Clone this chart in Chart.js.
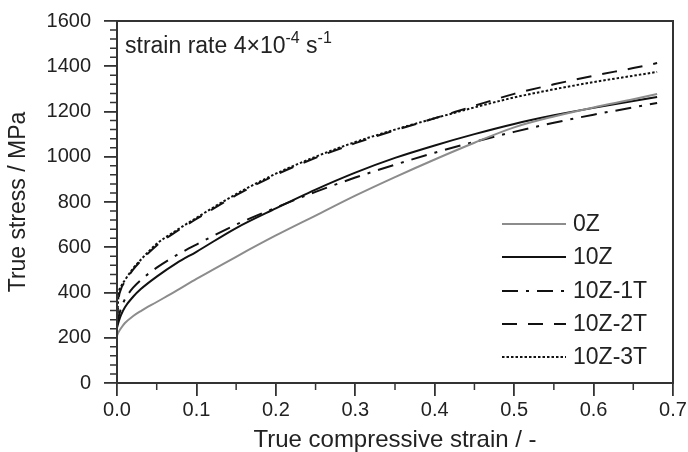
<!DOCTYPE html>
<html>
<head>
<meta charset="utf-8">
<script src="https://cdn.jsdelivr.net/npm/chart.js@4.4.1/dist/chart.umd.min.js"></script>
<style>
  html, body { margin: 0; padding: 0; background: #fff; overflow: hidden; }
</style>
</head>
<body>
<canvas id="chart" width="688" height="452"></canvas>
<script>
// ---------- Data ----------
const strain = [0, 0.002, 0.005, 0.01, 0.02, 0.03, 0.05, 0.075, 0.1, 0.15, 0.2, 0.25, 0.3, 0.35, 0.4, 0.45, 0.5, 0.55, 0.6, 0.65, 0.68];

const stress0Z  = [210, 225, 242, 265, 295, 318, 358, 408, 460, 558, 652, 740, 828, 910, 988, 1062, 1130, 1178, 1218, 1254, 1277];
const stress10Z = [245, 270, 300, 335, 380, 415, 470, 530, 580, 685, 772, 855, 930, 995, 1050, 1100, 1145, 1183, 1216, 1246, 1264];
const stress1T  = [255, 290, 330, 370, 420, 455, 510, 565, 612, 700, 775, 845, 908, 965, 1018, 1066, 1110, 1150, 1186, 1218, 1238];
const stress2T  = [265, 370, 415, 448, 500, 540, 608, 670, 725, 830, 920, 995, 1060, 1117, 1170, 1225, 1278, 1320, 1358, 1392, 1414];
const stress3T  = [270, 390, 425, 455, 505, 545, 615, 675, 730, 835, 925, 1000, 1065, 1120, 1170, 1218, 1262, 1298, 1330, 1358, 1375];

const seriesLabels = ["0Z", "10Z", "10Z-1T", "10Z-2T", "10Z-3T"];
const xTicks = [0, 0.1, 0.2, 0.3, 0.4, 0.5, 0.6, 0.7];
const yTicks = [0, 200, 400, 600, 800, 1000, 1200, 1400, 1600];

// ---------- Style ----------
const INK = "#222222";
const AXIS = "#333333";
const FONT = "'Liberation Sans', Arial, sans-serif";

const pts = (ys) => strain.map((x, i) => ({ x, y: ys[i] }));

const styles = [
  { color: "#8c8c8c", dash: [] },
  { color: "#111111", dash: [] },
  { color: "#111111", dash: [16, 8, 3, 8] },
  { color: "#111111", dash: [15, 11] },
  { color: "#111111", dash: [2.5, 2] },
];
const values = [stress0Z, stress10Z, stress1T, stress2T, stress3T];

const datasets = values.map((v, i) => ({
  label: seriesLabels[i],
  data: pts(v),
  borderColor: styles[i].color,
  borderDash: styles[i].dash,
  borderWidth: 2,
  pointRadius: 0,
  fill: false,
  cubicInterpolationMode: "monotone",
}));

// ---------- Extras: frame, minor ticks, legend, note ----------
const extras = {
  id: "extras",
  afterDraw(chart) {
    const { ctx, chartArea: a, scales } = chart;
    ctx.save();
    // frame
    ctx.strokeStyle = AXIS;
    ctx.lineWidth = 2;
    ctx.strokeRect(a.left, a.top, a.right - a.left, a.bottom - a.top);

    // minor ticks
    ctx.lineWidth = 1.5;
    ctx.beginPath();
    for (let v = 40; v < 1600; v += 40) {
      if (v % 200 === 0) continue;
      const y = scales.y.getPixelForValue(v);
      ctx.moveTo(a.left - 7, y);
      ctx.lineTo(a.left, y);
    }
    for (let k = 0; k < 7; k++) {
      const x = scales.x.getPixelForValue(k * 0.1 + 0.05);
      ctx.moveTo(x, a.bottom);
      ctx.lineTo(x, a.bottom + 7);
    }
    ctx.stroke();

    // legend
    const rowY = [224, 257, 291, 324, 357];
    ctx.font = "23px " + FONT;
    ctx.textBaseline = "middle";
    ctx.textAlign = "left";
    chart.data.datasets.forEach((ds, i) => {
      const y = rowY[i];
      ctx.strokeStyle = ds.borderColor;
      ctx.lineWidth = 2;
      ctx.setLineDash(ds.borderDash);
      ctx.beginPath();
      ctx.moveTo(502, y);
      ctx.lineTo(566, y);
      ctx.stroke();
      ctx.setLineDash([]);
      ctx.fillStyle = INK;
      ctx.fillText(ds.label, 573, y + 1);
    });

    // strain-rate note with superscripts
    ctx.textBaseline = "alphabetic";
    let x = a.left + 8;
    const base = 53;
    const part = (txt, size, dy) => {
      ctx.font = size + "px " + FONT;
      ctx.fillText(txt, x, base - dy);
      x += ctx.measureText(txt).width;
    };
    part("strain rate 4\u00d710", 23, 0);
    part("-4", 16, 10);
    part(" s", 23, 0);
    part("-1", 16, 10);
    ctx.restore();
  },
};

// keep the scales from reserving room for overhanging labels
const noPad = (s) => { s.paddingTop = 0; s.paddingBottom = 0; s.paddingLeft = 0; s.paddingRight = 0; };

new Chart(document.getElementById("chart"), {
  type: "line",
  data: { datasets },
  plugins: [extras],
  options: {
    responsive: false,
    animation: false,
    layout: { autoPadding: false, padding: { top: 21, right: 15, left: 0, bottom: 0 } },
    plugins: { legend: { display: false }, tooltip: { enabled: false } },
    scales: {
      x: {
        type: "linear",
        min: 0,
        max: 0.7,
        afterBuildTicks: (s) => { s.ticks = xTicks.map((value) => ({ value })); },
        afterFit: (s) => { s.height = 69; noPad(s); },
        ticks: { callback: (v) => Number(v).toFixed(1), color: INK, padding: 2, font: { family: FONT, size: 20 }, maxRotation: 0 },
        grid: { drawOnChartArea: false, tickLength: 13, color: AXIS, lineWidth: 1.8 },
        border: { color: AXIS, width: 2 },
        title: { display: true, text: "True compressive strain / -", color: INK, font: { family: FONT, size: 24, lineHeight: 1.0 }, padding: { top: 0, bottom: 0 } },
      },
      y: {
        min: 0,
        max: 1600,
        afterBuildTicks: (s) => { s.ticks = yTicks.map((value) => ({ value })); },
        afterFit: (s) => { s.width = 117; noPad(s); },
        ticks: { callback: (v) => String(v), color: INK, padding: 13, font: { family: FONT, size: 20 } },
        grid: { drawOnChartArea: false, tickLength: 13, color: AXIS, lineWidth: 1.8 },
        border: { color: AXIS, width: 2 },
        title: { display: true, text: "True stress / MPa", color: INK, font: { family: FONT, size: 23, lineHeight: 1.2 }, padding: { top: 5, bottom: 0 } },
      },
    },
  },
});
</script>
</body>
</html>
